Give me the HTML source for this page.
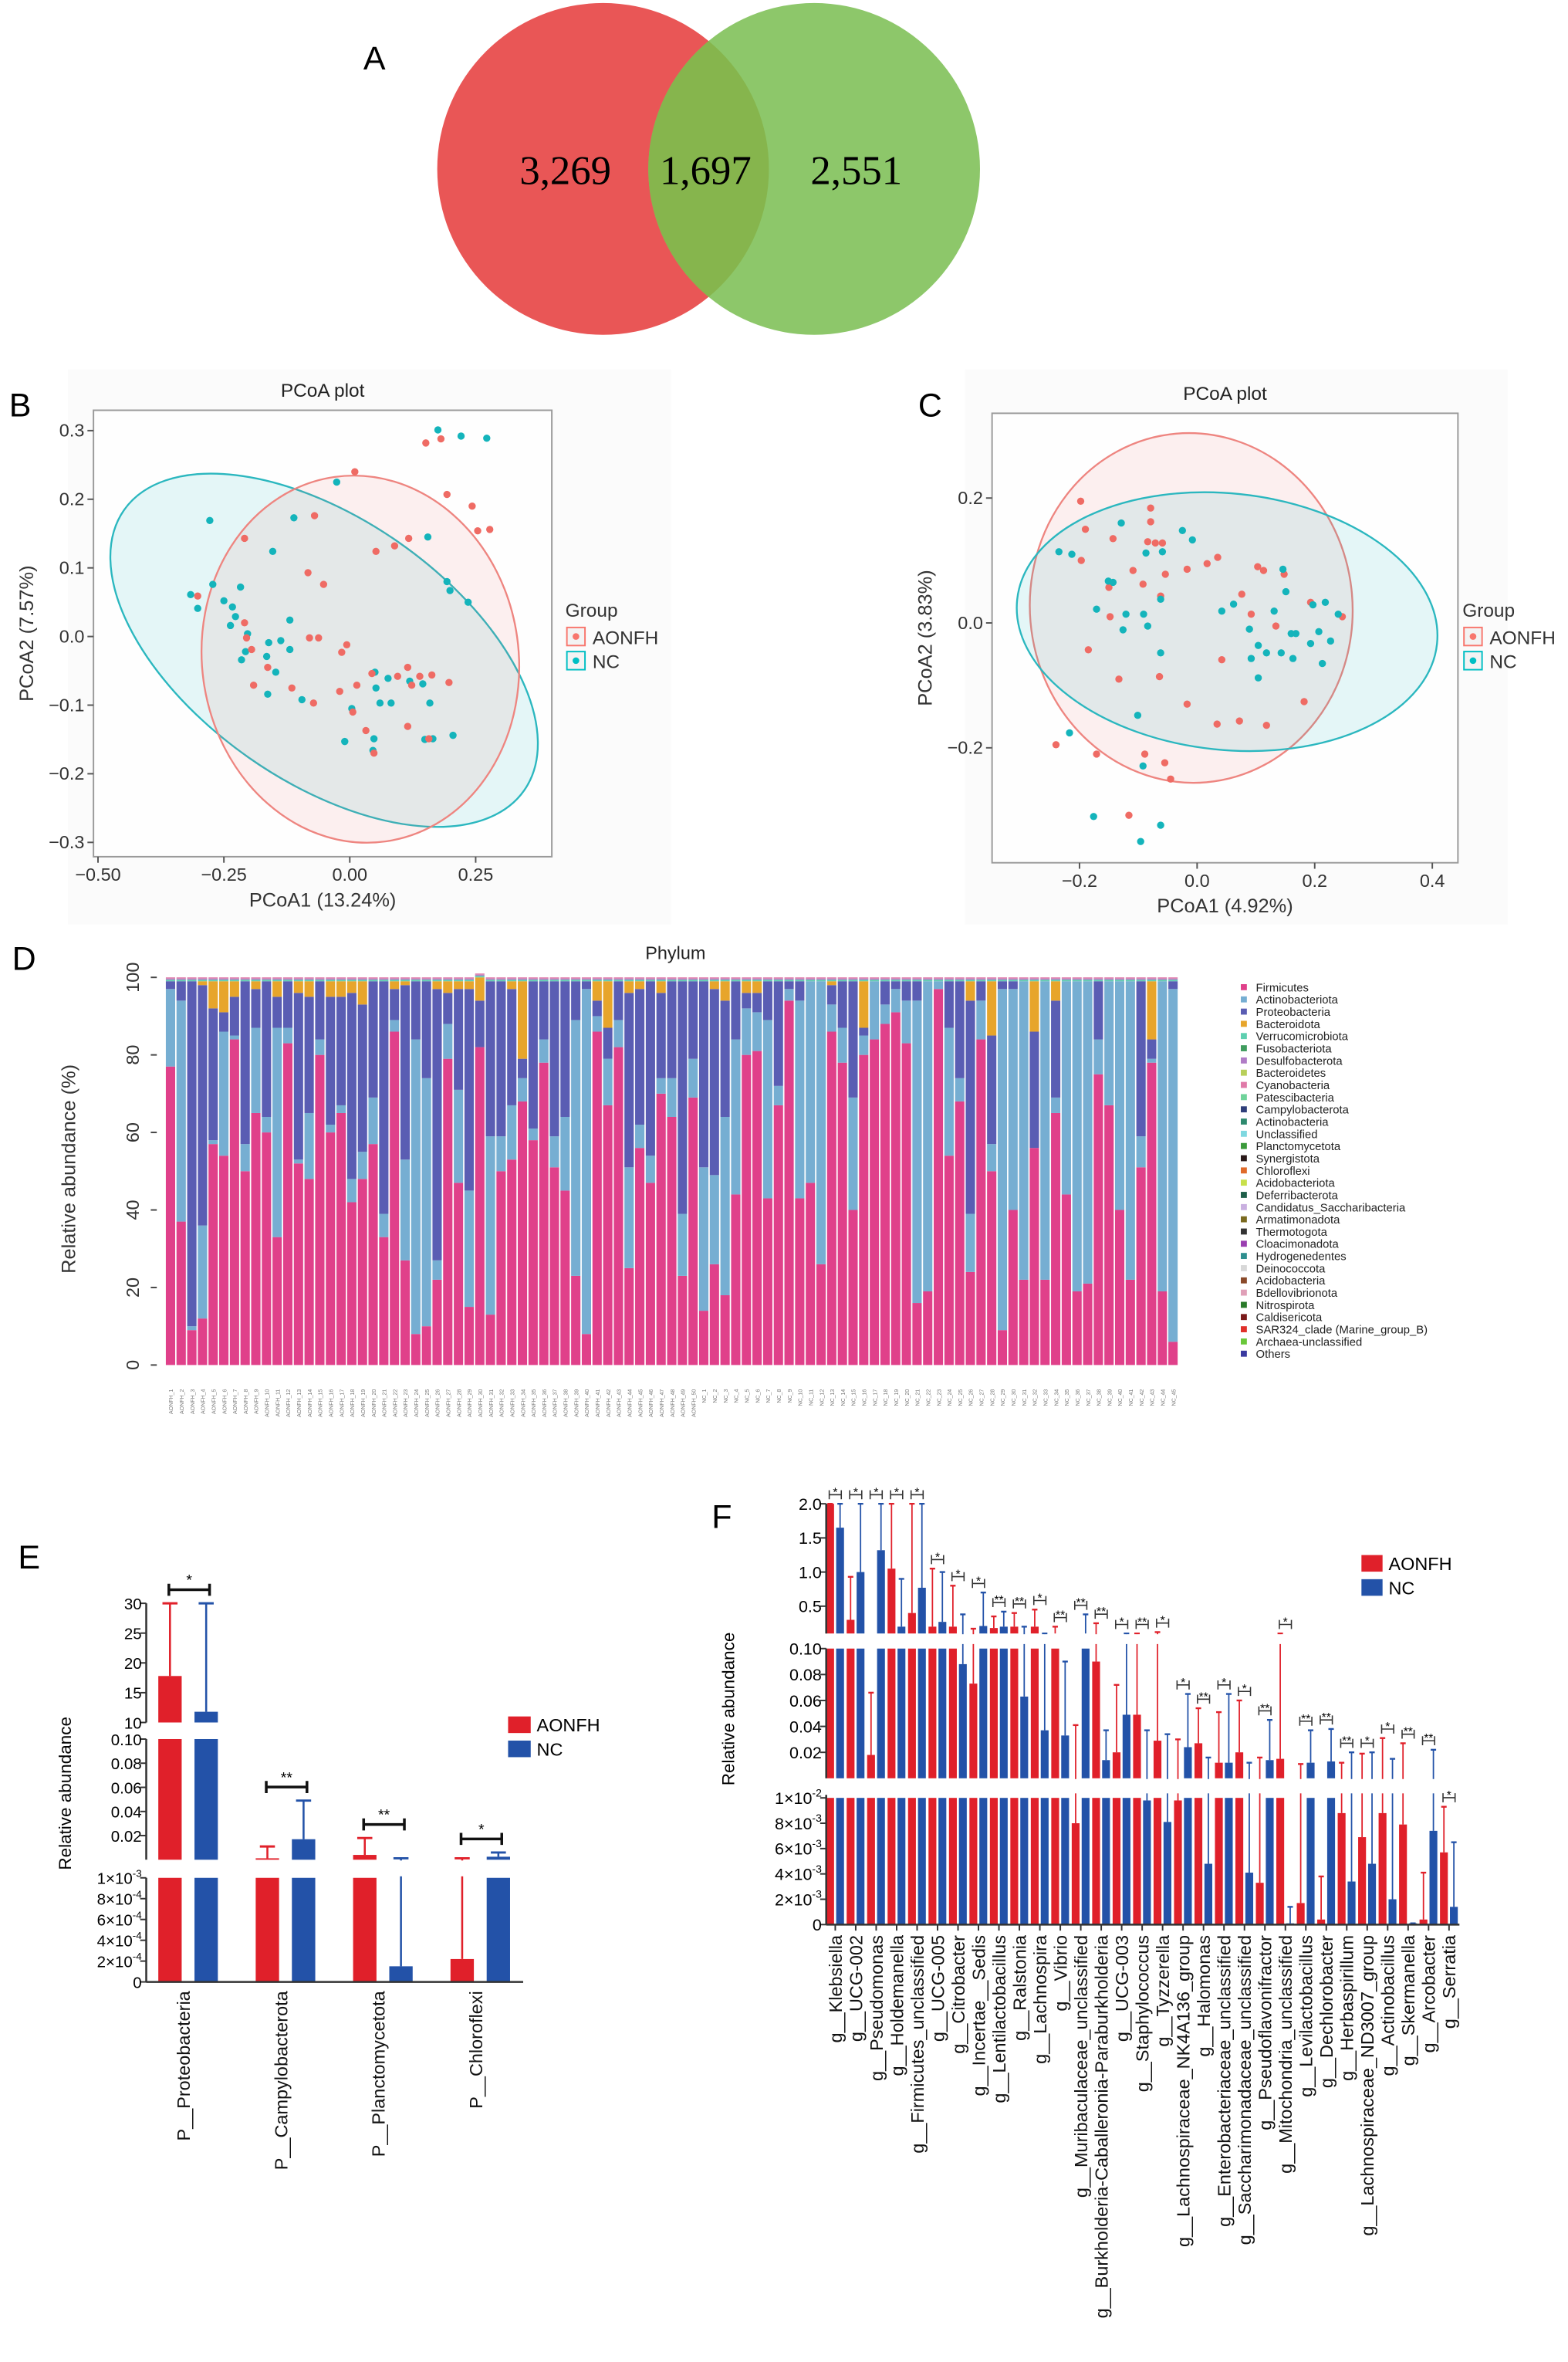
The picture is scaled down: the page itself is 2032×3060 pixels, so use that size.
<!DOCTYPE html>
<html><head><meta charset="utf-8"><style>
html,body{margin:0;padding:0;background:#fff;}
svg{display:block;font-family:"Liberation Sans",sans-serif;}
</style></head><body>
<svg id="fig" xmlns="http://www.w3.org/2000/svg" width="2032" height="3060" viewBox="0 0 1040 1566" preserveAspectRatio="none">
<defs>
<clipPath id="redclip"><circle cx="400" cy="112" r="110"/></clipPath>
</defs>
<rect x="0" y="0" width="1040" height="1566" fill="#fff"/>
<g>
<text x="241" y="46" font-size="22">A</text>
<circle cx="400" cy="112" r="110" fill="#e95656"/>
<circle cx="540" cy="112" r="110" fill="#8dc76a"/>
<circle cx="540" cy="112" r="110" fill="#86b54d" clip-path="url(#redclip)"/>
<text x="375" y="122" font-size="27" text-anchor="middle" font-family="Liberation Serif, serif">3,269</text>
<text x="468" y="122" font-size="27" text-anchor="middle" font-family="Liberation Serif, serif">1,697</text>
<text x="568" y="122" font-size="27" text-anchor="middle" font-family="Liberation Serif, serif">2,551</text>
</g>
</svg>
<script>
// ---------- data ----------
const bTickX=[-0.5,-0.25,0,0.25], bTickXLab=['−0.50','−0.25','0.00','0.25'];
const bTickY=[0.3,0.2,0.1,0,-0.1,-0.2,-0.3], bTickYLab=['0.3','0.2','0.1','0.0','−0.1','−0.2','−0.3'];
const bTealX=[.175,.221,.272,-.026,-.278,-.111,-.153,.155,.193,.199,.235,-.316,-.302,-.272,-.250,-.233,-.217,-.227,-.237,-.203,-.119,-.161,-.137,-.207,-.215,-.165,-.119,-.147,-.163,-.095,.050,.052,.076,.060,.004,.119,.145,.159,-.010,.048,.046,.149,.165,.205,.082];
const bTealY=[.301,.292,.289,.225,.169,.173,.124,.145,.080,.067,.050,.061,.041,.076,.052,.043,.072,.029,.016,.004,.024,-.009,-.006,-.022,-.034,-.029,-.019,-.052,-.084,-.092,-.052,-.075,-.061,-.097,-.105,-.065,-.069,-.097,-.153,-.149,-.166,-.150,-.149,-.144,-.097];
const bRedX=[.151,.181,.010,-.070,.193,.243,.254,.278,-.209,.052,.089,.117,-.083,-.052,-.302,-.209,-.205,-.080,-.062,-.006,-.016,-.195,-.163,-.191,-.115,-.072,-.020,.014,.044,.115,.123,.095,.197,.139,.163,.006,.032,.115,.048,.157];
const bRedY=[.282,.288,.240,.176,.207,.190,.154,.156,.143,.124,.132,.143,.093,.076,.059,.020,-.002,-.002,-.002,-.012,-.023,-.019,-.045,-.071,-.075,-.097,-.080,-.071,-.054,-.045,-.071,-.058,-.067,-.058,-.056,-.110,-.137,-.131,-.170,-.149];
const cTickX=[-0.2,0,0.2,0.4], cTickXLab=['−0.2','0.0','0.2','0.4'];
const cTickY=[0.2,0,-0.2], cTickYLab=['0.2','0.0','−0.2'];
const cRedX=[-.198,-.190,-.143,-.079,-.079,-.084,-.071,-.059,-.197,-.109,-.150,-.092,-.054,-.017,.017,.035,-.062,-.148,-.185,-.133,-.064,-.017,.034,.072,.118,.182,.042,.076,.092,.103,.113,.148,.134,.193,.247,-.240,-.171,-.089,-.055,-.045,-.116];
const cRedY=[.195,.150,.135,.184,.162,.130,.128,.128,.100,.084,.057,.062,.078,.086,.095,.105,.043,.010,-.043,-.090,-.086,-.130,-.162,-.157,-.164,-.126,-.059,.046,.014,.090,.084,.078,-.005,.033,.010,-.195,-.210,-.210,-.224,-.250,-.308];
const cTealX=[-.235,-.213,-.151,-.143,-.129,-.087,-.059,-.025,-.008,-.171,-.121,-.091,-.084,-.126,-.062,-.062,.042,.062,.089,.104,.131,.146,.151,.168,.160,.118,.143,.163,.197,.218,.207,.193,.227,.240,.213,.092,.104,-.217,-.101,-.092,-.176,-.062,-.096];
const cTealY=[.114,.110,.067,.065,.160,.112,.114,.148,.133,.022,.014,.014,-.005,-.011,.038,-.048,.019,.030,-.010,-.036,.019,.086,.050,-.017,-.017,-.048,-.048,-.057,.029,.033,-.014,-.033,-.029,.014,-.065,-.057,-.088,-.176,-.148,-.229,-.310,-.324,-.350];

const dPhyla=['Firmicutes','Actinobacteriota','Proteobacteria','Bacteroidota','Verrucomicrobiota','Fusobacteriota','Desulfobacterota','Bacteroidetes','Cyanobacteria','Patescibacteria','Campylobacterota','Actinobacteria','Unclassified','Planctomycetota','Synergistota','Chloroflexi','Acidobacteriota','Deferribacterota','Candidatus_Saccharibacteria','Armatimonadota','Thermotogota','Cloacimonadota','Hydrogenedentes','Deinococcota','Acidobacteria','Bdellovibrionota','Nitrospirota','Caldisericota','SAR324_clade (Marine_group_B)','Archaea-unclassified','Others'];
const dColors=['#e0408a','#76aed2','#5a5db3','#e7a52b','#5ecfb0','#3f9c5e','#b07cc6','#b8cf5a','#e07aa8','#6fd39a','#2f3f7a','#2e8a6e','#7fd8e0','#3b9a3b','#2a1a1a','#e06a2a','#c8e04a','#1f5f4a','#c9b0e0','#7a6a20','#333333','#9a3fb0','#2f8f8f','#d8d8d8','#8a4a2a','#e0a0b8','#2a7a2a','#7a1a1a','#e0302a','#6ac83a','#3a3aa0'];
const dFirm=[77,37,9,12,57,54,84,50,65,60,33,83,52,48,80,60,65,42,48,57,33,86,27,8,10,22,79,47,15,82,13,50,53,68,58,78,51,45,23,8,86,67,82,25,56,47,70,64,23,69,14,26,18,44,80,81,43,67,94,43,47,26,86,78,40,80,84,88,91,83,16,19,97,54,68,24,84,50,9,40,22,56,22,65,44,19,21,75,67,40,22,51,78,19,6];
const dProt=[2,5,89,62,34,5,10,42,10,35,8,12,43,30,15,33,28,48,38,30,60,8,45,15,25,70,8,26,52,12,40,40,30,5,38,15,40,35,10,2,4,8,10,45,35,45,22,25,60,20,48,48,30,15,4,5,10,27,2,5,0,0,5,12,30,2,0,6,2,5,5,0,0,12,25,55,5,28,2,2,0,30,0,25,0,0,0,15,0,0,0,40,5,0,2];
const dBact=[0,0,0,1,7,8,4,0,2,0,4,0,3,4,0,4,4,3,6,0,0,2,1,0,0,2,3,2,2,6,0,0,2,20,0,0,0,0,0,0,5,12,0,3,2,0,3,0,0,0,0,2,5,0,3,3,0,0,0,0,0,0,1,0,0,12,0,0,0,0,0,0,0,0,0,5,0,14,0,0,0,13,0,5,0,0,0,0,0,0,0,0,15,0,0];
const dYTicks=[0,20,40,60,80,100];

const eCats=['P__Proteobacteria','P__Campylobacterota','P__Planctomycetota','P__Chloroflexi'];
const eAonfh=[17.8,0.0012,0.004,0.00022];
const eAonfhErr=[30,0.011,0.018,0.0012];
const eNc=[11.8,0.017,0.00015,0.0025];
const eNcErr=[30,0.049,0.0012,0.006];
const eSig=['*','**','**','*'];
const eTicks1=[10,15,20,25,30];
const eTicks2=[0.02,0.04,0.06,0.08,0.10], eTicks2Lab=['0.02','0.04','0.06','0.08','0.10'];
const eTicks3=[0,0.0002,0.0004,0.0006,0.0008,0.001], eTicks3Lab=[['0',''],['2×10','-4'],['4×10','-4'],['6×10','-4'],['8×10','-4'],['1×10','-3']];

const fCats=['g__Klebsiella','g__UCG-002','g__Pseudomonas','g__Holdemanella','g__Firmicutes_unclassified','g__UCG-005','g__Citrobacter','g__Incertae__Sedis','g__Lentilactobacillus','g__Ralstonia','g__Lachnospira','g__Vibrio','g__Muribaculaceae_unclassified','g__Burkholderia-Caballeronia-Paraburkholderia','g__UCG-003','g__Staphylococcus','g__Tyzzerella','g__Lachnospiraceae_NK4A136_group','g__Halomonas','g__Enterobacteriaceae_unclassified','g__Saccharimonadaceae_unclassified','g__Pseudoflavonifractor','g__Mitochondria_unclassified','g__Levilactobacillus','g__Dechlorobacter','g__Herbaspirillum','g__Lachnospiraceae_ND3007_group','g__Actinobacillus','g__Skermanella','g__Arcobacter','g__Serratia'];
const fAonfh=[2.0,0.3,0.018,1.05,0.4,0.2,0.2,0.073,0.18,0.2,0.2,0.1,0.008,0.09,0.02,0.049,0.029,0.0098,0.027,0.012,0.02,0.0033,0.015,0.0017,0.0004,0.0088,0.0069,0.0088,0.0079,0.0004,0.0057];
const fAonfhErr=[2.0,0.93,0.066,2.0,2.0,1.05,0.8,0.17,0.35,0.4,0.45,0.2,0.041,0.25,0.072,0.1,0.12,0.03,0.054,0.051,0.06,0.016,0.1,0.011,0.0038,0.012,0.019,0.031,0.027,0.0041,0.0093];
const fNc=[1.65,1.0,1.32,0.2,0.77,0.27,0.088,0.21,0.2,0.063,0.037,0.033,0.1,0.014,0.049,0.0098,0.0081,0.024,0.0048,0.012,0.0041,0.014,0.0001,0.012,0.013,0.0034,0.0048,0.002,0.0001,0.0074,0.0014];
const fNcErr=[2.0,2.0,2.0,0.9,2.0,1.0,0.38,0.7,0.42,0.2,0.1,0.09,0.38,0.037,0.1,0.037,0.034,0.065,0.016,0.065,0.012,0.045,0.0014,0.037,0.038,0.02,0.02,0.015,0.0001,0.022,0.0065];
const fSig=['*','*','*','*','*','*','*','*','**','**','*','**','**','**','*','**','*','*','**','*','*','**','*','**','**','**','*','*','**','**','*'];
const fTicks1=[0.5,1.0,1.5,2.0], fTicks1Lab=['0.5','1.0','1.5','2.0'];
const fTicks2=[0.02,0.04,0.06,0.08,0.10], fTicks2Lab=['0.02','0.04','0.06','0.08','0.10'];
const fTicks3=[0,0.002,0.004,0.006,0.008,0.01], fTicks3Lab=[['0',''],['2×10','-3'],['4×10','-3'],['6×10','-3'],['8×10','-3'],['1×10','-2']];

// ---------- helpers ----------
const NS='http://www.w3.org/2000/svg';
const svg=document.getElementById('fig');
function mk(tag,attrs,parent){const e=document.createElementNS(NS,tag);for(const k in attrs)e.setAttribute(k,attrs[k]);(parent||svg).appendChild(e);return e;}
function tx(x,y,s,attrs,parent){const e=mk('text',Object.assign({x:x,y:y},attrs||{}),parent);e.textContent=s;return e;}
function supText(x,y,base,sup,fs,parent){const e=mk('text',{x:x,y:y,'font-size':fs,'text-anchor':'end'},parent);const t1=mk('tspan',{},e);t1.textContent=base;if(sup){const t2=mk('tspan',{dy:-fs*0.45,'font-size':fs*0.65},e);t2.textContent=sup;}return e;}

// ---------- PCoA ----------
function pcoa(cfg){
  const g=mk('g',{});
  
  
  const bg=mk('rect',{x:cfg.panel[0],y:cfg.panel[1],width:cfg.panel[2],height:cfg.panel[3],fill:'#fbfbfb'},g);
  
  
  const bx=mk('rect',{x:cfg.box[0],y:cfg.box[1],width:cfg.box[2]-cfg.box[0],height:cfg.box[3]-cfg.box[1],fill:'#fefefe',stroke:'#9a9a9a','stroke-width':1},g);
  
  
  const X=v=>cfg.x0+v*cfg.xs, Y=v=>cfg.y0-v*cfg.ys;
  cfg.ell.forEach(el=>{
    const e=mk('ellipse',{cx:X(el.cx),cy:Y(el.cy),rx:el.rx,ry:el.ry,transform:`rotate(${el.a} ${X(el.cx)} ${Y(el.cy)})`,fill:el.fill,stroke:el.stroke,'stroke-width':1.2},g);
    
    
  });
  cfg.series.forEach(s=>{
    s.xs.forEach((v,i)=>{
      const c=mk('circle',{cx:X(v),cy:Y(s.ys[i]),r:2.4,fill:s.col},g);
      
      
    });
  });
  cfg.tx.forEach((v,i)=>{
    const l=mk('line',{x1:X(v),x2:X(v),y1:cfg.box[3],y2:cfg.box[3]+4,stroke:'#555'},g);
    
    
    const t=tx(X(v),cfg.box[3]+16,cfg.txl[i],{'font-size':12,'text-anchor':'middle',fill:'#333'},g);
    
    
  });
  cfg.ty.forEach((v,i)=>{
    const l=mk('line',{x1:cfg.box[0]-4,x2:cfg.box[0],y1:Y(v),y2:Y(v),stroke:'#555'},g);
    
    
    const t=tx(cfg.box[0]-6,Y(v)+4,cfg.tyl[i],{'font-size':12,'text-anchor':'end',fill:'#333'},g);
    
    
  });
  const ti=tx((cfg.box[0]+cfg.box[2])/2,cfg.box[1]-9,'PCoA plot',{'font-size':12.5,'text-anchor':'middle',fill:'#222'},g);
  
  
  const xt=tx((cfg.box[0]+cfg.box[2])/2,cfg.box[3]+33,cfg.xlab,{'font-size':13,'text-anchor':'middle',fill:'#333'},g);
  
  
  const yt=tx(0,0,cfg.ylab,{'font-size':13,'text-anchor':'middle',fill:'#333',transform:`translate(${cfg.box[0]-40},${(cfg.box[1]+cfg.box[3])/2}) rotate(-90)`},g);
  
  
  const pl=tx(cfg.lab[1],cfg.lab[2],cfg.lab[0],{'font-size':22},g);
  
  
  const lx=cfg.leg[0], ly=cfg.leg[1];
  const gt=tx(lx,ly,'Group',{'font-size':12.5,fill:'#333'},g);
  
  
  [['AONFH','#f8766d'],['NC','#00bfc4']].forEach((it,i)=>{
    const r=mk('rect',{x:lx+1,y:ly+7+i*16,width:12,height:12,fill:'#f3f3f3',stroke:it[1],'stroke-width':1},g);
    
    
    const c=mk('circle',{cx:lx+7,cy:ly+13+i*16,r:2.2,fill:it[1]},g);
    
    
    const t=tx(lx+18,ly+18+i*16,it[0],{'font-size':12.5,fill:'#333'},g);
    
    
  });
}
pcoa({name:'pcoa-plot-b',panel:[45,245,400,368],box:[62,272,366,568],x0:232,xs:334,y0:422,ys:455,
  tx:bTickX,txl:bTickXLab,ty:bTickY,tyl:bTickYLab,xlab:'PCoA1 (13.24%)',ylab:'PCoA2 (7.57%)',lab:['B',6,276],leg:[375,409],
  ell:[{n:'nc-ellipse',cx:-0.051,cy:-0.02,rx:162,ry:87,a:35,fill:'rgba(0,180,190,0.10)',stroke:'#2bb7bf'},
       {n:'aonfh-ellipse',cx:0.021,cy:-0.033,rx:105,ry:122,a:-8,fill:'rgba(240,110,110,0.10)',stroke:'#ee8580'}],
  series:[{n:'nc-point',xs:bTealX,ys:bTealY,col:'#14b4bb'},{n:'aonfh-point',xs:bRedX,ys:bRedY,col:'#ef6b64'}]});
pcoa({name:'pcoa-plot-c',panel:[640,245,360,368],box:[658,274,967,572],x0:794,xs:390,y0:413,ys:414,
  tx:cTickX,txl:cTickXLab,ty:cTickY,tyl:cTickYLab,xlab:'PCoA1 (4.92%)',ylab:'PCoA2 (3.83%)',lab:['C',609,276],leg:[970,409],
  ell:[{n:'aonfh-ellipse',cx:-0.01,cy:0.024,rx:107,ry:116,a:-5,fill:'rgba(240,110,110,0.10)',stroke:'#ee8580'},
       {n:'nc-ellipse',cx:0.051,cy:0.002,rx:140,ry:85,a:6,fill:'rgba(0,180,190,0.10)',stroke:'#2bb7bf'}],
  series:[{n:'aonfh-point',xs:cRedX,ys:cRedY,col:'#ef6b64'},{n:'nc-point',xs:cTealX,ys:cTealY,col:'#14b4bb'}]});

// ---------- D stacked bars ----------
(function(){
  const g=mk('g',{});
  
  
  const x0=110,x1=782,yb=905,yt=648;
  const Y=v=>yb-v/100*(yb-yt);
  const n=dFirm.length, w=(x1-x0)/n;
  const lab=tx(8,643,'D',{'font-size':22},g);
  
  
  const ti=tx(448,636,'Phylum',{'font-size':12,'text-anchor':'middle',fill:'#222'},g);
  
  
  for(let i=0;i<n;i++){
    const vals=[dFirm[i],0,dProt[i],dBact[i]];
    vals[1]=Math.max(0,99-dFirm[i]-dProt[i]-dBact[i]);
    let acc=0;
    const segs=[[vals[0],0],[vals[1],1],[vals[2],2],[vals[3],3],[0.4,4],[0.3,6],[0.3,8]];
    segs.forEach(s=>{
      if(s[0]<=0)return;
      const r=mk('rect',{x:x0+i*w,y:Y(acc+s[0]),width:w-0.9,height:Y(acc)-Y(acc+s[0]),fill:dColors[s[1]]},g);
      
      
      acc+=s[0];
    });
    const name=(i<50?'AONFH_':'NC_')+(i<50?i+1:i-49);
    const t=tx(0,0,name,{'font-size':3.6,fill:'#777','text-anchor':'end',transform:`translate(${x0+i*w+w/2+1.2},${yb+16}) rotate(-90)`},g);
    
    
  }
  dYTicks.forEach(v=>{
    const l=mk('line',{x1:100,x2:104,y1:Y(v),y2:Y(v),stroke:'#444'},g);
    
    
    const t=tx(0,0,String(v),{'font-size':12,'text-anchor':'middle',fill:'#333',transform:`translate(${92},${Y(v)}) rotate(-90)`},g);
    
    
  });
  const yt2=tx(0,0,'Relative abundance (%)',{'font-size':13,'text-anchor':'middle',fill:'#333',transform:'translate(50,775) rotate(-90)'},g);
  
  
  dPhyla.forEach((p,i)=>{
    const y=655+i*8.1;
    const r=mk('rect',{x:823,y:y-2.5,width:4,height:4,fill:dColors[i]},g);
    
    
    const t=tx(833,y+2.3,p,{'font-size':7.6,fill:'#222'},g);
    
    
  });
})();

// ---------- E ----------
(function(){
  const g=mk('g',{});
  
  
  const RED='#e0202a',BLUE='#2352a8';
  const ax=97, ax2=347;
  const s1=v=>1142-(v-10)/20*79, s2=v=>1233-v/0.1*80, s3=v=>1314-v/0.001*69;
  const Y=v=>v>=10?s1(Math.min(v,30)):(v>0.001?s2(Math.min(v,0.1)):s3(v));
  const centers=eCats.map((c,i)=>125+i*64.6);
  function bar(cx,v,err,col,nm){
    const x=cx, w=15.5;
    const parts=[[1314,s3(Math.min(v,0.001))]];
    if(v>0.001)parts.push([1233,s2(Math.min(v,0.1))]);
    if(v>10)parts.push([1142,s1(Math.min(v,30))]);
    parts.forEach(p=>{
      const r=mk('rect',{x:x,y:p[1],width:w,height:Math.max(0,p[0]-p[1]),fill:col},g);
      
      
    });
    const l=mk('line',{x1:x+w/2,x2:x+w/2,y1:Y(v),y2:Y(err),stroke:col,'stroke-width':1.3},g);
    
    
    const c=mk('line',{x1:x+w/2-5,x2:x+w/2+5,y1:Y(err),y2:Y(err),stroke:col,'stroke-width':1.5},g);
    
    
  }
  eCats.forEach((c,i)=>{
    bar(centers[i]-20,eAonfh[i],eAonfhErr[i],RED,'bar-aonfh');
    bar(centers[i]+4,eNc[i],eNcErr[i],BLUE,'bar-nc');
  });
  [[1142.5,1152],[1233.5,1244]].forEach(gp=>{
    const r=mk('rect',{x:ax-6,y:gp[0],width:ax2-ax+8,height:gp[1]-gp[0],fill:'#fff'},g);
    
    
  });
  eCats.forEach((c,i)=>{
    const by=Math.min(Y(eAonfhErr[i]),Y(eNcErr[i]))-9;
    const x1=centers[i]-13,x2=centers[i]+14;
    const p=mk('path',{d:`M${x1},${by-4}V${by+4}M${x1},${by}H${x2}M${x2},${by-4}V${by+4}`,stroke:'#111','stroke-width':1.8,fill:'none'},g);
    
    
    const t=tx((x1+x2)/2,by-3,eSig[i],{'font-size':10,'text-anchor':'middle'},g);
    
    
    const xl=tx(0,0,c,{'font-size':12,'text-anchor':'end',fill:'#111',transform:`translate(${centers[i]+1},1320) rotate(-90)`},g);
    
    
  });
  [[1063,1142],[1153,1233],[1245,1314]].forEach(sg=>{
    const l=mk('line',{x1:ax,x2:ax,y1:sg[0],y2:sg[1],stroke:'#333','stroke-width':1.3},g);
    
    
  });
  const xa=mk('line',{x1:ax,x2:ax2,y1:1314,y2:1314,stroke:'#333','stroke-width':1.3},g);
  
  
  eTicks1.forEach(v=>{
    const l=mk('line',{x1:ax-4,x2:ax,y1:s1(v),y2:s1(v),stroke:'#333'},g);
    
    
    const t=tx(ax-3,s1(v)+4,String(v),{'font-size':10.5,'text-anchor':'end'},g);
    
    
  });
  eTicks2.forEach((v,i)=>{
    const l=mk('line',{x1:ax-4,x2:ax,y1:s2(v),y2:s2(v),stroke:'#333'},g);
    
    
    const t=tx(ax-3,s2(v)+4,eTicks2Lab[i],{'font-size':10.5,'text-anchor':'end'},g);
    
    
  });
  eTicks3.forEach((v,i)=>{
    const l=mk('line',{x1:ax-4,x2:ax,y1:s3(v),y2:s3(v),stroke:'#333'},g);
    
    
    const t=supText(ax-3,s3(v)+4,eTicks3Lab[i][0],eTicks3Lab[i][1],10.5,g);
    
    
  });
  const yt=tx(0,0,'Relative abundance',{'font-size':11.5,'text-anchor':'middle',transform:'translate(47,1189) rotate(-90)'},g);
  
  
  const pl=tx(12,1040,'E',{'font-size':22},g);
  
  
  [['AONFH',RED],['NC',BLUE]].forEach((it,i)=>{
    const r=mk('rect',{x:337,y:1138+i*16,width:15,height:11,fill:it[1]},g);
    
    
    const t=tx(356,1148+i*16,it[0],{'font-size':12},g);
    
    
  });
})();

// ---------- F ----------
(function(){
  const g=mk('g',{});
  
  
  const RED='#e0202a',BLUE='#2352a8';
  const ax=548, ax2=968;
  const s1=v=>1083-(v-0.1)/1.9*86, s2=v=>1179-v/0.1*86, s3=v=>1276-v/0.01*84;
  const Y=v=>v>=0.1?s1(Math.min(v,2)):(v>=0.01?s2(v):s3(v));
  const centers=fCats.map((c,i)=>554+i*13.57);
  function bar(x,v,err,col,nm){
    const w=5.2;
    const parts=[[1276,s3(Math.min(v,0.01))]];
    if(v>0.01)parts.push([1179,s2(Math.min(v,0.1))]);
    if(v>0.1)parts.push([1083,s1(Math.min(v,2))]);
    parts.forEach(p=>{
      const r=mk('rect',{x:x,y:p[1],width:w,height:Math.max(0,p[0]-p[1]),fill:col},g);
      
      
    });
    const l=mk('line',{x1:x+w/2,x2:x+w/2,y1:Y(v),y2:Y(err),stroke:col,'stroke-width':0.9},g);
    
    
    const c=mk('line',{x1:x+w/2-1.8,x2:x+w/2+1.8,y1:Y(err),y2:Y(err),stroke:col,'stroke-width':1.2},g);
    
    
  }
  fCats.forEach((c,i)=>{
    bar(centers[i]-6,fAonfh[i],fAonfhErr[i],RED,'bar-aonfh');
    bar(centers[i]+0.6,fNc[i],fNcErr[i],BLUE,'bar-nc');
  });
  [[1083.5,1090],[1179.5,1189]].forEach(gp=>{
    const r=mk('rect',{x:ax-5,y:gp[0],width:ax2-ax+8,height:gp[1]-gp[0],fill:'#fff'},g);
    
    
  });
  fCats.forEach((c,i)=>{
    const by=Math.max(987,Math.min(Y(fAonfhErr[i]),Y(fNcErr[i]))-6);
    const x1=centers[i]-4,x2=centers[i]+4;
    const p=mk('path',{d:`M${x1},${by-3}V${by+3}M${x1},${by}H${x2}M${x2},${by-3}V${by+3}`,stroke:'#333','stroke-width':0.8,fill:'none'},g);
    
    
    const t=tx(centers[i],by+1,fSig[i],{'font-size':8,'text-anchor':'middle'},g);
    
    
    const tk=mk('line',{x1:centers[i],x2:centers[i],y1:1276,y2:1280,stroke:'#333'},g);
    
    
    const xl=tx(0,0,c,{'font-size':12,'text-anchor':'end',fill:'#111',transform:`translate(${centers[i]+4.3},1283) rotate(-90)`},g);
    
    
  });
  [[997,1083],[1093,1179],[1190,1276]].forEach(sg=>{
    const l=mk('line',{x1:ax,x2:ax,y1:sg[0],y2:sg[1],stroke:'#333','stroke-width':1.3},g);
    
    
  });
  const xa=mk('line',{x1:ax,x2:ax2,y1:1276,y2:1276,stroke:'#333','stroke-width':1.3},g);
  
  
  fTicks1.forEach((v,i)=>{
    const l=mk('line',{x1:ax-4,x2:ax,y1:s1(v),y2:s1(v),stroke:'#333'},g);
    
    
    const t=tx(ax-3,s1(v)+4,fTicks1Lab[i],{'font-size':11,'text-anchor':'end'},g);
    
    
  });
  fTicks2.forEach((v,i)=>{
    const l=mk('line',{x1:ax-4,x2:ax,y1:s2(v),y2:s2(v),stroke:'#333'},g);
    
    
    const t=tx(ax-3,s2(v)+4,fTicks2Lab[i],{'font-size':11,'text-anchor':'end'},g);
    
    
  });
  fTicks3.forEach((v,i)=>{
    const l=mk('line',{x1:ax-4,x2:ax,y1:s3(v),y2:s3(v),stroke:'#333'},g);
    
    
    const t=supText(ax-3,s3(v)+4,fTicks3Lab[i][0],fTicks3Lab[i][1],11,g);
    
    
  });
  const yt=tx(0,0,'Relative abundance',{'font-size':11.5,'text-anchor':'middle',transform:'translate(487,1133) rotate(-90)'},g);
  
  
  const pl=tx(472,1013,'F',{'font-size':22},g);
  
  
  [['AONFH',RED],['NC',BLUE]].forEach((it,i)=>{
    const r=mk('rect',{x:903,y:1031+i*16,width:14,height:11,fill:it[1]},g);
    
    
    const t=tx(921,1041+i*16,it[0],{'font-size':12},g);
    
    
  });
})();
</script>
</body></html>
